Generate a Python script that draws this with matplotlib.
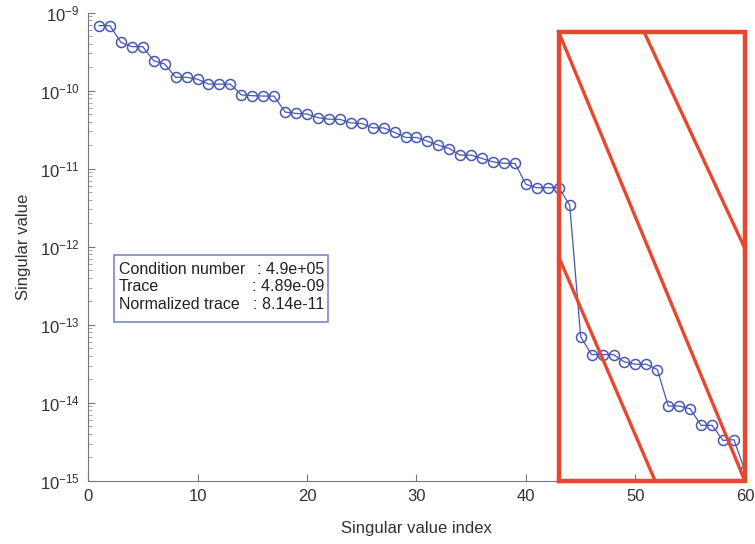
import matplotlib.pyplot as plt
import numpy as np

plt.rcParams['font.family'] = ['Liberation Sans', 'DejaVu Sans']
plt.rcParams['mathtext.default'] = 'regular'
plt.rcParams['axes.unicode_minus'] = False

# Singular values (index 1..60)
sv_index = np.arange(1, 61)
sv_values = [
    6.8e-10, 6.8e-10, 4.15e-10, 3.65e-10, 3.65e-10, 2.41e-10, 2.19e-10, 1.48e-10, 1.48e-10, 1.40e-10,
    1.21e-10, 1.21e-10, 1.21e-10, 8.8e-11, 8.6e-11, 8.5e-11, 8.5e-11, 5.3e-11, 5.1e-11, 5.0e-11,
    4.5e-11, 4.3e-11, 4.28e-11, 3.86e-11, 3.79e-11, 3.33e-11, 3.33e-11, 2.91e-11, 2.51e-11, 2.51e-11,
    2.25e-11, 2.0e-11, 1.81e-11, 1.49e-11, 1.49e-11, 1.35e-11, 1.22e-11, 1.17e-11, 1.17e-11, 6.3e-12,
    5.7e-12, 5.7e-12, 5.7e-12, 3.4e-12, 7.0e-14, 4.15e-14, 4.15e-14, 4.15e-14, 3.34e-14, 3.12e-14,
    3.12e-14, 2.67e-14, 9.1e-15, 9.1e-15, 8.4e-15, 5.15e-15, 5.15e-15, 3.3e-15, 3.37e-15, 1.35e-15,
]

info_labels = ['Condition number', 'Trace', 'Normalized trace']
info_values = [': 4.9e+05', ': 4.89e-09', ': 8.14e-11']

# highlighted region (red hatched box)
box_x = [43, 60]
box_y = [1e-15, 5.6e-10]
hatch_lines = [
    ([43, 60], [5.6e-10, 1e-15]),
    ([50.8, 60], [5.6e-10, 9.5e-13]),
    ([43, 51.8], [7.4e-13, 1e-15]),
]

fig = plt.figure(figsize=(7.55, 5.44), dpi=100)
ax = fig.add_axes([0.1166, 0.116, 0.870, 0.861])

blue = '#4658b0'
ax.semilogy(sv_index, sv_values, '-o', color=blue, lw=0.9,
            mfc='none', mec=blue, ms=7.2, mew=1.1)

ax.set_xlim(0, 60)
ax.set_ylim(1e-15, 1e-9)
ax.set_xticks([0, 10, 20, 30, 40, 50, 60])

for s in ['top', 'right']:
    ax.spines[s].set_visible(False)
for s in ['left', 'bottom']:
    ax.spines[s].set_color('#777777')
    ax.spines[s].set_linewidth(0.8)

ax.tick_params(which='major', direction='in', length=5, color='#777777',
               labelsize=12, labelcolor='#333333', pad=6)
ax.tick_params(which='minor', direction='in', length=3, color='#999999')
ax.tick_params(axis='x', which='minor', bottom=False)

ax.set_xlabel('Singular value index', fontsize=12, color='#333333', labelpad=12)
ax.set_ylabel('Singular value', fontsize=12, color='#333333', labelpad=6)

# info box
bx0, by0, bw, bh = 0.039, 0.339, 0.326, 0.143
ax.add_patch(plt.Rectangle((bx0, by0), bw, bh, transform=ax.transAxes,
                           fill=False, ec='#7d88c4', lw=1.2))
for i, (lab, val) in enumerate(zip(info_labels, info_values)):
    yy = by0 + bh - 0.03 - i * 0.038
    ax.text(bx0 + 0.008, yy, lab, transform=ax.transAxes, fontsize=11.5,
            va='center', ha='left', color='#222222')
    ax.text(bx0 + bw - 0.005, yy, val, transform=ax.transAxes, fontsize=11.5,
            va='center', ha='right', color='#222222')

red = '#e8472f'
ax.plot([box_x[0], box_x[1], box_x[1], box_x[0], box_x[0]],
        [box_y[0], box_y[0], box_y[1], box_y[1], box_y[0]],
        color=red, lw=3.2, clip_on=False, solid_joinstyle='miter')
for xs, ys in hatch_lines:
    ax.plot(xs, ys, color=red, lw=2.4, clip_on=False)

fig.savefig('out.png', dpi=100)
